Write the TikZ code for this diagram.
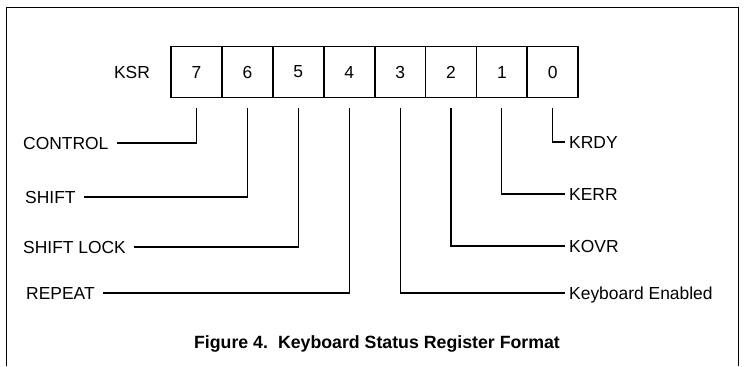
\documentclass[tikz,border=0pt]{standalone}
\usepackage{fontspec}
\setmainfont{Liberation Sans}
\usetikzlibrary{
    positioning,
}

\begin{document}
\begin{tikzpicture}[x=1bp, y=-1bp,
        bitbox/.style={rectangle, draw=black, line width=1.8bp, outer sep=0pt, minimum width=50.9bp, minimum height=51bp, font=\fontsize{17.5}{20}\selectfont},
        flag/.style={inner sep=0pt, text height=12.5bp, text depth=0pt, font=\fontsize{17.5}{20}\selectfont},
        leftlead/.style={line width=1.1bp, shorten <=10bp, shorten >=8bp},
        rightlead/.style={line width=1.1bp, shorten <=10bp, shorten >=4bp},
        ]
        \useasboundingbox (0,0) rectangle (745,366);
        % frame round the figure
        \draw[line width=1bp] (6,366) -- (6,7) -- (738,7) -- (738,366);
        % register
        \node[flag] (KSR) at (132,72) {KSR};
        \node[bitbox] (B7) at (196.5,72) {7};
        \node[bitbox] (B6) [right=0pt of B7] {6};
        \node[bitbox] (B5) [right=0pt of B6] {5};
        \node[bitbox] (B4) [right=0pt of B5] {4};
        \node[bitbox] (B3) [right=0pt of B4] {3};
        \node[bitbox] (B2) [right=0pt of B3] {2};
        \node[bitbox] (B1) [right=0pt of B2] {1};
        \node[bitbox] (B0) [right=0pt of B1] {0};
        % bit names
        \node[flag, anchor=west] (CTRL) at (23,143) {CONTROL};
        \node[flag, anchor=west] (SHFT) at (25,197) {SHIFT};
        \node[flag, anchor=west] (SLCK) at (23,247) {SHIFT LOCK};
        \node[flag, anchor=west] (RPT) at (26,293) {REPEAT};
        \node[flag, anchor=west] (KRDY) at (569,142) {KRDY};
        \node[flag, anchor=west] (KERR) at (569,194) {KERR};
        \node[flag, anchor=west] (KOVR) at (569,246) {KOVR};
        \node[flag, anchor=west] (KEN) at (569,293) {Keyboard Enabled};
        \draw[leftlead] (B7.south) |- (CTRL.east);
        \draw[leftlead] (B6.south) |- (SHFT.east);
        \draw[leftlead] (B5.south) |- (SLCK.east);
        \draw[leftlead] (B4.south) |- (RPT.east);
        \draw[rightlead] (B3.south) |- (KEN.west);
        \draw[rightlead] (B2.south) |- (KOVR.west);
        \draw[rightlead] (B1.south) |- (KERR.west);
        \draw[rightlead] (B0.south) |- (KRDY.west);
        % caption
        \node[font=\bfseries\fontsize{17.8}{20}\selectfont] (CAP) at (377,344) {Figure 4.\hspace{10bp}Keyboard Status Register Format};
\end{tikzpicture}
\end{document}
